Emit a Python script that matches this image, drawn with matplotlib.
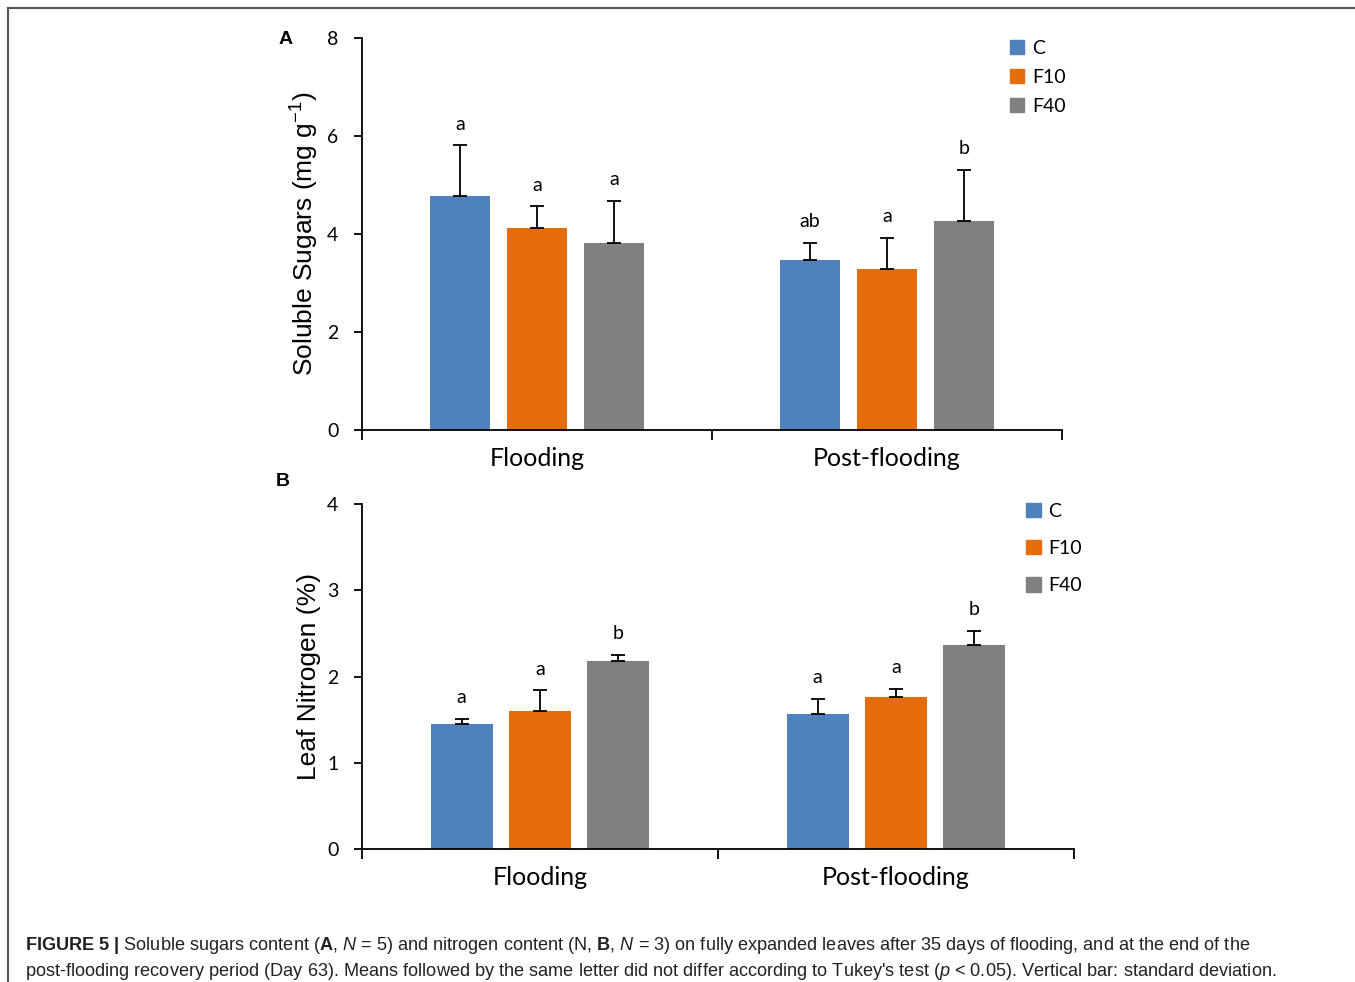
import matplotlib.pyplot as plt
from matplotlib.patches import Patch
from matplotlib.lines import Line2D
import numpy as np

groups = ['Flooding', 'Post-flooding']
treatments = ['C', 'F10', 'F40']
colors = ['#4F81BD', '#E46C0A', '#808080']

# panel A: soluble sugars (mg g-1)
sugar_mean = {'C': [4.78, 3.47], 'F10': [4.12, 3.29], 'F40': [3.82, 4.27]}
sugar_sd = {'C': [1.03, 0.35], 'F10': [0.45, 0.63], 'F40': [0.86, 1.04]}
sugar_letters = {'C': ['a', 'ab'], 'F10': ['a', 'a'], 'F40': ['a', 'b']}

# panel B: leaf nitrogen (%)
nitro_mean = {'C': [1.45, 1.57], 'F10': [1.60, 1.76], 'F40': [2.18, 2.37]}
nitro_sd = {'C': [0.06, 0.17], 'F10': [0.24, 0.10], 'F40': [0.07, 0.16]}
nitro_letters = {'C': ['a', 'a'], 'F10': ['a', 'a'], 'F40': ['b', 'b']}

plt.rcParams['font.family'] = ['Lato', 'DejaVu Sans']
plt.rcParams['mathtext.fontset'] = 'custom'
plt.rcParams['mathtext.rm'] = 'Liberation Sans'
plt.rcParams['mathtext.bf'] = 'Liberation Sans:bold'
plt.rcParams['mathtext.it'] = 'Liberation Sans:italic'

W, H = 1355, 982
fig = plt.figure(figsize=(W / 100, H / 100), dpi=100)

# frame around the figure (top and left edges)
fig.add_artist(Line2D([8 / W, 1], [1 - 8 / H, 1 - 8 / H], color='#555555', lw=1.5))
fig.add_artist(Line2D([8 / W, 8 / W], [0, 1 - 8 / H], color='#555555', lw=1.5))

offsets = [-0.22, 0.0, 0.22]
width = 0.174


def panel(ax, means, sds, letters, ymax, ylabel, leg_anchor, leg_space):
	centers = np.arange(len(groups)) + 0.5
	for i, t in enumerate(treatments):
		x = centers + offsets[i]
		ax.bar(x, means[t], width, color=colors[i], zorder=2)
		ax.errorbar(x, means[t], yerr=[np.zeros(len(groups)), sds[t]], fmt='none',
					ecolor='black', elinewidth=1.3, capsize=5, capthick=1.3, zorder=3)
		for xi, m, s, l in zip(x, means[t], sds[t], letters[t]):
			ax.annotate(l, (xi, m + s), xytext=(0, 9), textcoords='offset points',
						ha='center', va='bottom', fontsize=14)
	ax.set_xlim(0, 2)
	ax.set_ylim(0, ymax)
	ax.set_yticks(np.arange(0, ymax + 0.01, 2 if ymax == 8 else 1))
	ax.set_xticks([0, 1, 2])
	ax.set_xticklabels([])
	ax.set_xticks(centers, minor=True)
	ax.set_xticklabels(groups, minor=True, fontsize=18)
	ax.tick_params(axis='x', which='minor', length=0, pad=12)
	ax.tick_params(axis='x', which='major', length=7, width=1.3, direction='out')
	ax.tick_params(axis='y', length=6, width=1.3, labelsize=14, pad=11)
	for s in ['top', 'right']:
		ax.spines[s].set_visible(False)
	for s in ['left', 'bottom']:
		ax.spines[s].set_linewidth(1.3)
	ax.set_ylabel(ylabel, fontsize=19, family=['Liberation Sans', 'DejaVu Sans'], labelpad=4)
	handles = [Patch(color=c, label=t) for c, t in zip(colors, treatments)]
	ax.legend(handles=handles, loc='upper left', bbox_to_anchor=leg_anchor, frameon=False,
			  handlelength=0.75, handleheight=0.75, handletextpad=0.4, labelspacing=leg_space,
			  fontsize=14)


axA = fig.add_axes([362 / W, 1 - 430 / H, 700 / W, 392 / H])
panel(axA, sugar_mean, sugar_sd, sugar_letters, 8, 'Soluble Sugars (mg g$^{-1}$)', (0.9, 1.04), 0.62)

axB = fig.add_axes([362 / W, 1 - 849 / H, 712 / W, 345 / H])
panel(axB, nitro_mean, nitro_sd, nitro_letters, 4, 'Leaf Nitrogen (%)', (0.908, 1.055), 1.05)

fig.text(286 / W, 1 - 40 / H, 'A', fontsize=14, fontweight='bold', ha='center', va='center',
		 family=['Liberation Sans', 'DejaVu Sans'])
fig.text(283 / W, 1 - 482 / H, 'B', fontsize=14, fontweight='bold', ha='center', va='center',
		 family=['Liberation Sans', 'DejaVu Sans'])

cap_font = ['Liberation Sans', 'DejaVu Sans']
line1 = (r'$\mathbf{FIGURE\ 5\ |}$ Soluble sugars content ($\mathbf{A}$, $\mathit{N}$ = 5) and nitrogen '
		 r'content (N, $\mathbf{B}$, $\mathit{N}$ = 3) on fully expanded leaves after 35 days of flooding, and at the end of the')
line2 = (r'post-flooding recovery period (Day 63). Means followed by the same letter did not differ '
		 r"according to Tukey's test ($\mathit{p}$ < 0.05). Vertical bar: standard deviation.")
fig.text(25 / W, 1 - 945 / H, line1, fontsize=13.1, va='center', family=cap_font, color='#222222')
fig.text(25 / W, 1 - 971 / H, line2, fontsize=13.1, va='center', family=cap_font, color='#222222')

fig.savefig('out.png', dpi=100)
